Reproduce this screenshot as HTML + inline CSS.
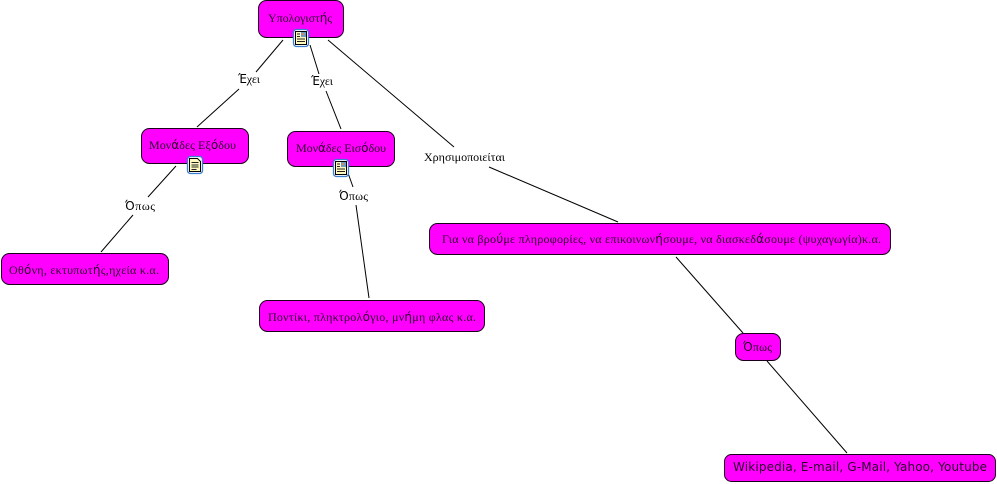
<!DOCTYPE html>
<html lang="el"><head><meta charset="utf-8"><title>Υπολογιστής</title>
<style>
html,body{margin:0;padding:0;background:#fff;width:997px;height:484px;overflow:hidden}
svg{display:block;position:absolute;left:0;top:0}
text{font-family:"Liberation Serif","DejaVu Serif",serif;font-size:12px;fill:#2a002a}
.l{fill:#000}
tspan.s{font-family:"DejaVu Sans",sans-serif;font-size:12px}
.w{font-family:"DejaVu Sans","Liberation Sans",sans-serif;font-size:12px;fill:#2a002a}
.n{fill:#f0f;stroke:#1a001a;stroke-width:1}
.c{stroke:#000;stroke-width:1;fill:none}
</style></head><body>
<svg width="997" height="484" viewBox="0 0 997 484" xmlns="http://www.w3.org/2000/svg">
<defs>
<g id="doc">
<rect x="0.5" y="0.5" width="15" height="17" rx="3" fill="#fff" stroke="#3a7fd0" stroke-width="1.3"/>
<path d="M2.500 2.500H10.500L13.500 5.500V15.500H2.500Z" fill="#fff9c0" stroke="#000" stroke-width="1"/>
<path d="M4.500 6.500h7M4.500 9h7M4.500 11h7M4.500 13.500h5" stroke="#222" stroke-width="1"/>
</g>
<g id="img">
<rect x="0.5" y="0.5" width="15" height="17" rx="3" fill="#fff" stroke="#3a7fd0" stroke-width="1.3"/>
<rect x="2.500" y="2.500" width="11" height="13" fill="#fff9c0" stroke="#000" stroke-width="1"/>
<rect x="8" y="3" width="5" height="5" fill="#6f9cc4"/>
<path d="M9 4h2v2h-2z" fill="#d08a70"/>
<path d="M4 5h3M4 7.500h3M4 10h8M4 12.500h8" stroke="#222" stroke-width="1"/>
</g>
</defs>

<path class="c" d="M283 40L256 72M239 89L197 127"/>
<path class="c" d="M310 45L319 74M326 91L341 129"/>
<path class="c" d="M328 40L454 147M489 167L618 222"/>
<path class="c" d="M176 166L148 197M133 215L101 252"/>
<path class="c" d="M348 173L353 187M356 205L369 298"/>
<path class="c" d="M676 257L743 333"/>
<path class="c" d="M767 361L847 453"/>

<rect class="n" x="258.500" y="0.500" width="85" height="37" rx="8"/>
<rect class="n" x="141.500" y="128.500" width="107" height="35" rx="8"/>
<rect class="n" x="287.500" y="131.500" width="107" height="35" rx="8"/>
<rect class="n" x="1.500" y="253.500" width="167" height="31" rx="8"/>
<rect class="n" x="259.500" y="300.500" width="225" height="31" rx="8"/>
<rect class="n" x="429.500" y="223.500" width="461" height="31" rx="8"/>
<rect class="n" x="735.500" y="333.500" width="45" height="27" rx="8"/>
<rect class="n" x="724.500" y="454.500" width="271" height="27" rx="7"/>

<use href="#img" x="293" y="29"/>
<use href="#doc" x="187" y="156"/>
<use href="#img" x="333" y="159"/>

<text x="268" y="22" textLength="64" lengthAdjust="spacing">Υπολογιστ<tspan class="s">ή</tspan>ς</text>
<text x="149" y="149" textLength="87" lengthAdjust="spacing">Μον<tspan class="s">ά</tspan>δες Εξ<tspan class="s">ό</tspan>δου</text>
<text x="296" y="152" textLength="90" lengthAdjust="spacing">Μον<tspan class="s">ά</tspan>δες Εισ<tspan class="s">ό</tspan>δου</text>
<text x="9" y="274" textLength="150" lengthAdjust="spacing">Οθ<tspan class="s">ό</tspan>νη, εκτυπωτ<tspan class="s">ή</tspan>ς,ηχεία κ.α.</text>
<text x="268" y="321" textLength="208" lengthAdjust="spacing">Ποντίκι, πληκτρολ<tspan class="s">ό</tspan>γιο, μν<tspan class="s">ή</tspan>μη φλας κ.α.</text>
<text x="442" y="243" textLength="439" lengthAdjust="spacing">Για να βρο<tspan class="s">ύ</tspan>με πληροφορίες, να επικοινων<tspan class="s">ή</tspan>σουμε, να διασκεδ<tspan class="s">ά</tspan>σουμε (ψυχαγωγία)κ.α.</text>
<text x="743" y="351" textLength="29" lengthAdjust="spacing"><tspan class="s">Ό</tspan>πως</text>
<text class="w" x="733" y="471" textLength="254" lengthAdjust="spacing">Wikipedia, E-mail, G-Mail, Yahoo, Youtube</text>

<text class="l" x="238" y="83" textLength="22" lengthAdjust="spacing"><tspan class="s">Έ</tspan>χει</text>
<text class="l" x="311" y="85" textLength="22" lengthAdjust="spacing"><tspan class="s">Έ</tspan>χει</text>
<text class="l" x="125" y="210" textLength="30" lengthAdjust="spacing"><tspan class="s">Ό</tspan>πως</text>
<text class="l" x="339" y="200" textLength="29" lengthAdjust="spacing"><tspan class="s">Ό</tspan>πως</text>
<text class="l" x="424" y="161" textLength="81" lengthAdjust="spacing">Χρησιμοποιείται</text>
</svg>
</body></html>
